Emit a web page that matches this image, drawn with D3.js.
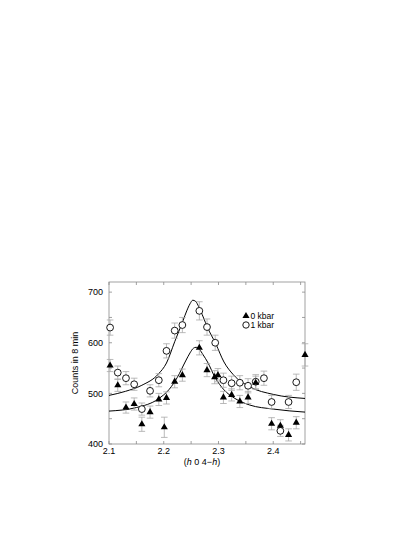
<!DOCTYPE html>
<html>
<head>
<meta charset="utf-8">
<script src="https://cdn.jsdelivr.net/npm/d3@7"></script>
<style>
  body { margin: 0; background: #fff; }
  svg text { font-family: "Liberation Sans", Arial, Helvetica, sans-serif; fill: #000; }
</style>
</head>
<body>
<div id="chart"></div>
<script>
// 1 kbar (open circles)
const h1 = [2.102, 2.116, 2.131, 2.146, 2.160, 2.175, 2.191, 2.205, 2.220, 2.234, 2.265, 2.279,
            2.294, 2.309, 2.324, 2.339, 2.354, 2.368, 2.383, 2.397, 2.413, 2.428, 2.442]
const c1 = [630, 541, 530, 518, 469, 505, 526, 584, 624, 635, 663, 631,
            600, 526, 520, 521, 515, 523, 530, 483, 426, 483, 522]
const e1 = [15, 13, 13, 12, 12, 12, 13, 14, 15, 15, 18, 16,
            15, 14, 14, 14, 14, 14, 14, 13, 11, 13, 16]

// 0 kbar (filled triangles)
const h0 = [2.102, 2.116, 2.131, 2.146, 2.160, 2.175, 2.191, 2.201, 2.205, 2.220, 2.234, 2.265,
            2.279, 2.293, 2.299, 2.309, 2.324, 2.339, 2.354, 2.368, 2.397, 2.413, 2.428, 2.442, 2.458]
const c0 = [555, 516, 472, 479, 439, 463, 488, 433, 491, 523, 536, 590,
            546, 532, 536, 492, 497, 484, 492, 521, 440, 436, 418, 442, 576]
const e0 = [12, 12, 11, 12, 14, 12, 12, 20, 12, 12, 12, 14,
            13, 13, 13, 12, 12, 12, 12, 13, 12, 12, 12, 12, 22]

// fitted curves
const fit1 = [[2.100, 496], [2.130, 504], [2.160, 516], [2.190, 538], [2.205, 560], [2.220, 602],
              [2.235, 643], [2.242, 663], [2.248, 677], [2.253, 684], [2.258, 682], [2.264, 671],
              [2.272, 651], [2.280, 630], [2.295, 598], [2.310, 562], [2.327, 537], [2.357, 513],
              [2.400, 498], [2.458, 490]]
const fit0 = [[2.100, 465], [2.150, 472], [2.190, 489], [2.210, 508], [2.225, 532], [2.240, 564],
              [2.248, 580], [2.254, 589], [2.259, 591], [2.265, 587], [2.272, 576], [2.280, 562],
              [2.294, 531], [2.310, 507], [2.330, 490], [2.357, 477], [2.400, 469], [2.458, 463]]

const xMajor = [2.1, 2.2, 2.3, 2.4]
const yMajor = [400, 500, 600, 700]

const pLeft = 109, pRight = 305, pTop = 282, pBottom = 444
const frameCol = "#8a8a8a", barCol = "#a8a8a8"

const x = d3.scaleLinear().domain([2.1, 2.458]).range([pLeft, pRight])
const y = d3.scaleLinear().domain([400, 720]).range([pBottom, pTop])

const svg = d3.select("#chart").append("svg")
    .attr("width", 415)
    .attr("height", 537)

// frame
svg.append("rect")
    .attr("x", pLeft).attr("y", pTop)
    .attr("width", pRight - pLeft).attr("height", pBottom - pTop)
    .attr("fill", "none").attr("stroke", frameCol).attr("stroke-width", 0.8)

// ticks on all sides, pointing in
const xTicks = d3.range(2.1, 2.46, 0.05)
const yTicks = d3.range(400, 721, 50)
const tk = svg.append("g").attr("stroke", frameCol).attr("stroke-width", 0.8)
xTicks.forEach(function(t) {
    tk.append("line").attr("x1", x(t)).attr("x2", x(t)).attr("y1", pBottom).attr("y2", pBottom - 3)
    tk.append("line").attr("x1", x(t)).attr("x2", x(t)).attr("y1", pTop).attr("y2", pTop + 3)
})
yTicks.forEach(function(t) {
    tk.append("line").attr("x1", pLeft).attr("x2", pLeft + 3).attr("y1", y(t)).attr("y2", y(t))
    tk.append("line").attr("x1", pRight).attr("x2", pRight - 3).attr("y1", y(t)).attr("y2", y(t))
})

// tick labels
svg.append("g").selectAll("text").data(xMajor).enter()
    .append("text")
    .attr("x", function(d) { return x(d) })
    .attr("y", pBottom + 10)
    .attr("text-anchor", "middle")
    .attr("font-size", 9)
    .text(function(d) { return d3.format(".1f")(d) })

svg.append("g").selectAll("text").data(yMajor).enter()
    .append("text")
    .attr("x", pLeft - 6)
    .attr("y", function(d) { return y(d) + 3.2 })
    .attr("text-anchor", "end")
    .attr("font-size", 9)
    .text(function(d) { return d })

// axis titles
const xt = svg.append("text")
    .attr("x", 202).attr("y", 465)
    .attr("text-anchor", "middle")
    .attr("font-size", 9)
xt.append("tspan").text("(")
xt.append("tspan").attr("font-style", "italic").text("h")
xt.append("tspan").text(" 0 4\u2212")
xt.append("tspan").attr("font-style", "italic").text("h")
xt.append("tspan").text(")")

svg.append("text")
    .attr("transform", "translate(78," + ((pTop + pBottom) / 2) + ") rotate(-90)")
    .attr("text-anchor", "middle")
    .attr("font-size", 9)
    .text("Counts in 8 min")

// curves
const line = d3.line()
    .x(function(d) { return x(d[0]) })
    .y(function(d) { return y(d[1]) })
    .curve(d3.curveMonotoneX)

const plot = svg.append("g")
plot.append("path").datum(fit1).attr("d", line)
    .attr("fill", "none").attr("stroke", "#000").attr("stroke-width", 1)
plot.append("path").datum(fit0).attr("d", line)
    .attr("fill", "none").attr("stroke", "#000").attr("stroke-width", 1)

// error bars
function errBars(hs, cs, es) {
    const g = plot.append("g").attr("stroke", barCol).attr("stroke-width", 0.8)
    hs.forEach(function(h, i) {
        const px = x(h), lo = y(cs[i] - es[i]), hi = y(cs[i] + es[i])
        g.append("line").attr("x1", px).attr("x2", px).attr("y1", lo).attr("y2", hi)
        g.append("line").attr("x1", px - 3.3).attr("x2", px + 3.3).attr("y1", lo).attr("y2", lo)
        g.append("line").attr("x1", px - 3.3).attr("x2", px + 3.3).attr("y1", hi).attr("y2", hi)
    })
}
errBars(h1, c1, e1)
errBars(h0, c0, e0)

const tri = d3.symbol().type(d3.symbolTriangle).size(22)

// markers
plot.append("g").selectAll("circle").data(h1).enter()
    .append("circle")
    .attr("cx", function(d) { return x(d) })
    .attr("cy", function(d, i) { return y(c1[i]) })
    .attr("r", 3.4)
    .attr("fill", "#fff").attr("stroke", "#000").attr("stroke-width", 0.9)

plot.append("g").selectAll("path").data(h0).enter()
    .append("path")
    .attr("d", tri)
    .attr("transform", function(d, i) { return "translate(" + x(d) + "," + y(c0[i]) + ")" })
    .attr("fill", "#000")

// legend
const lg = svg.append("g").attr("transform", "translate(246,0)")
lg.append("path").attr("d", tri).attr("transform", "translate(0,316)").attr("fill", "#000")
lg.append("circle").attr("cx", 0).attr("cy", 325).attr("r", 3.2)
    .attr("fill", "#fff").attr("stroke", "#000").attr("stroke-width", 0.9)
lg.append("text").attr("x", 4.5).attr("y", 318.5).attr("font-size", 8.5).text("0 kbar")
lg.append("text").attr("x", 4.5).attr("y", 328).attr("font-size", 8.5).text("1 kbar")
</script>
</body>
</html>
